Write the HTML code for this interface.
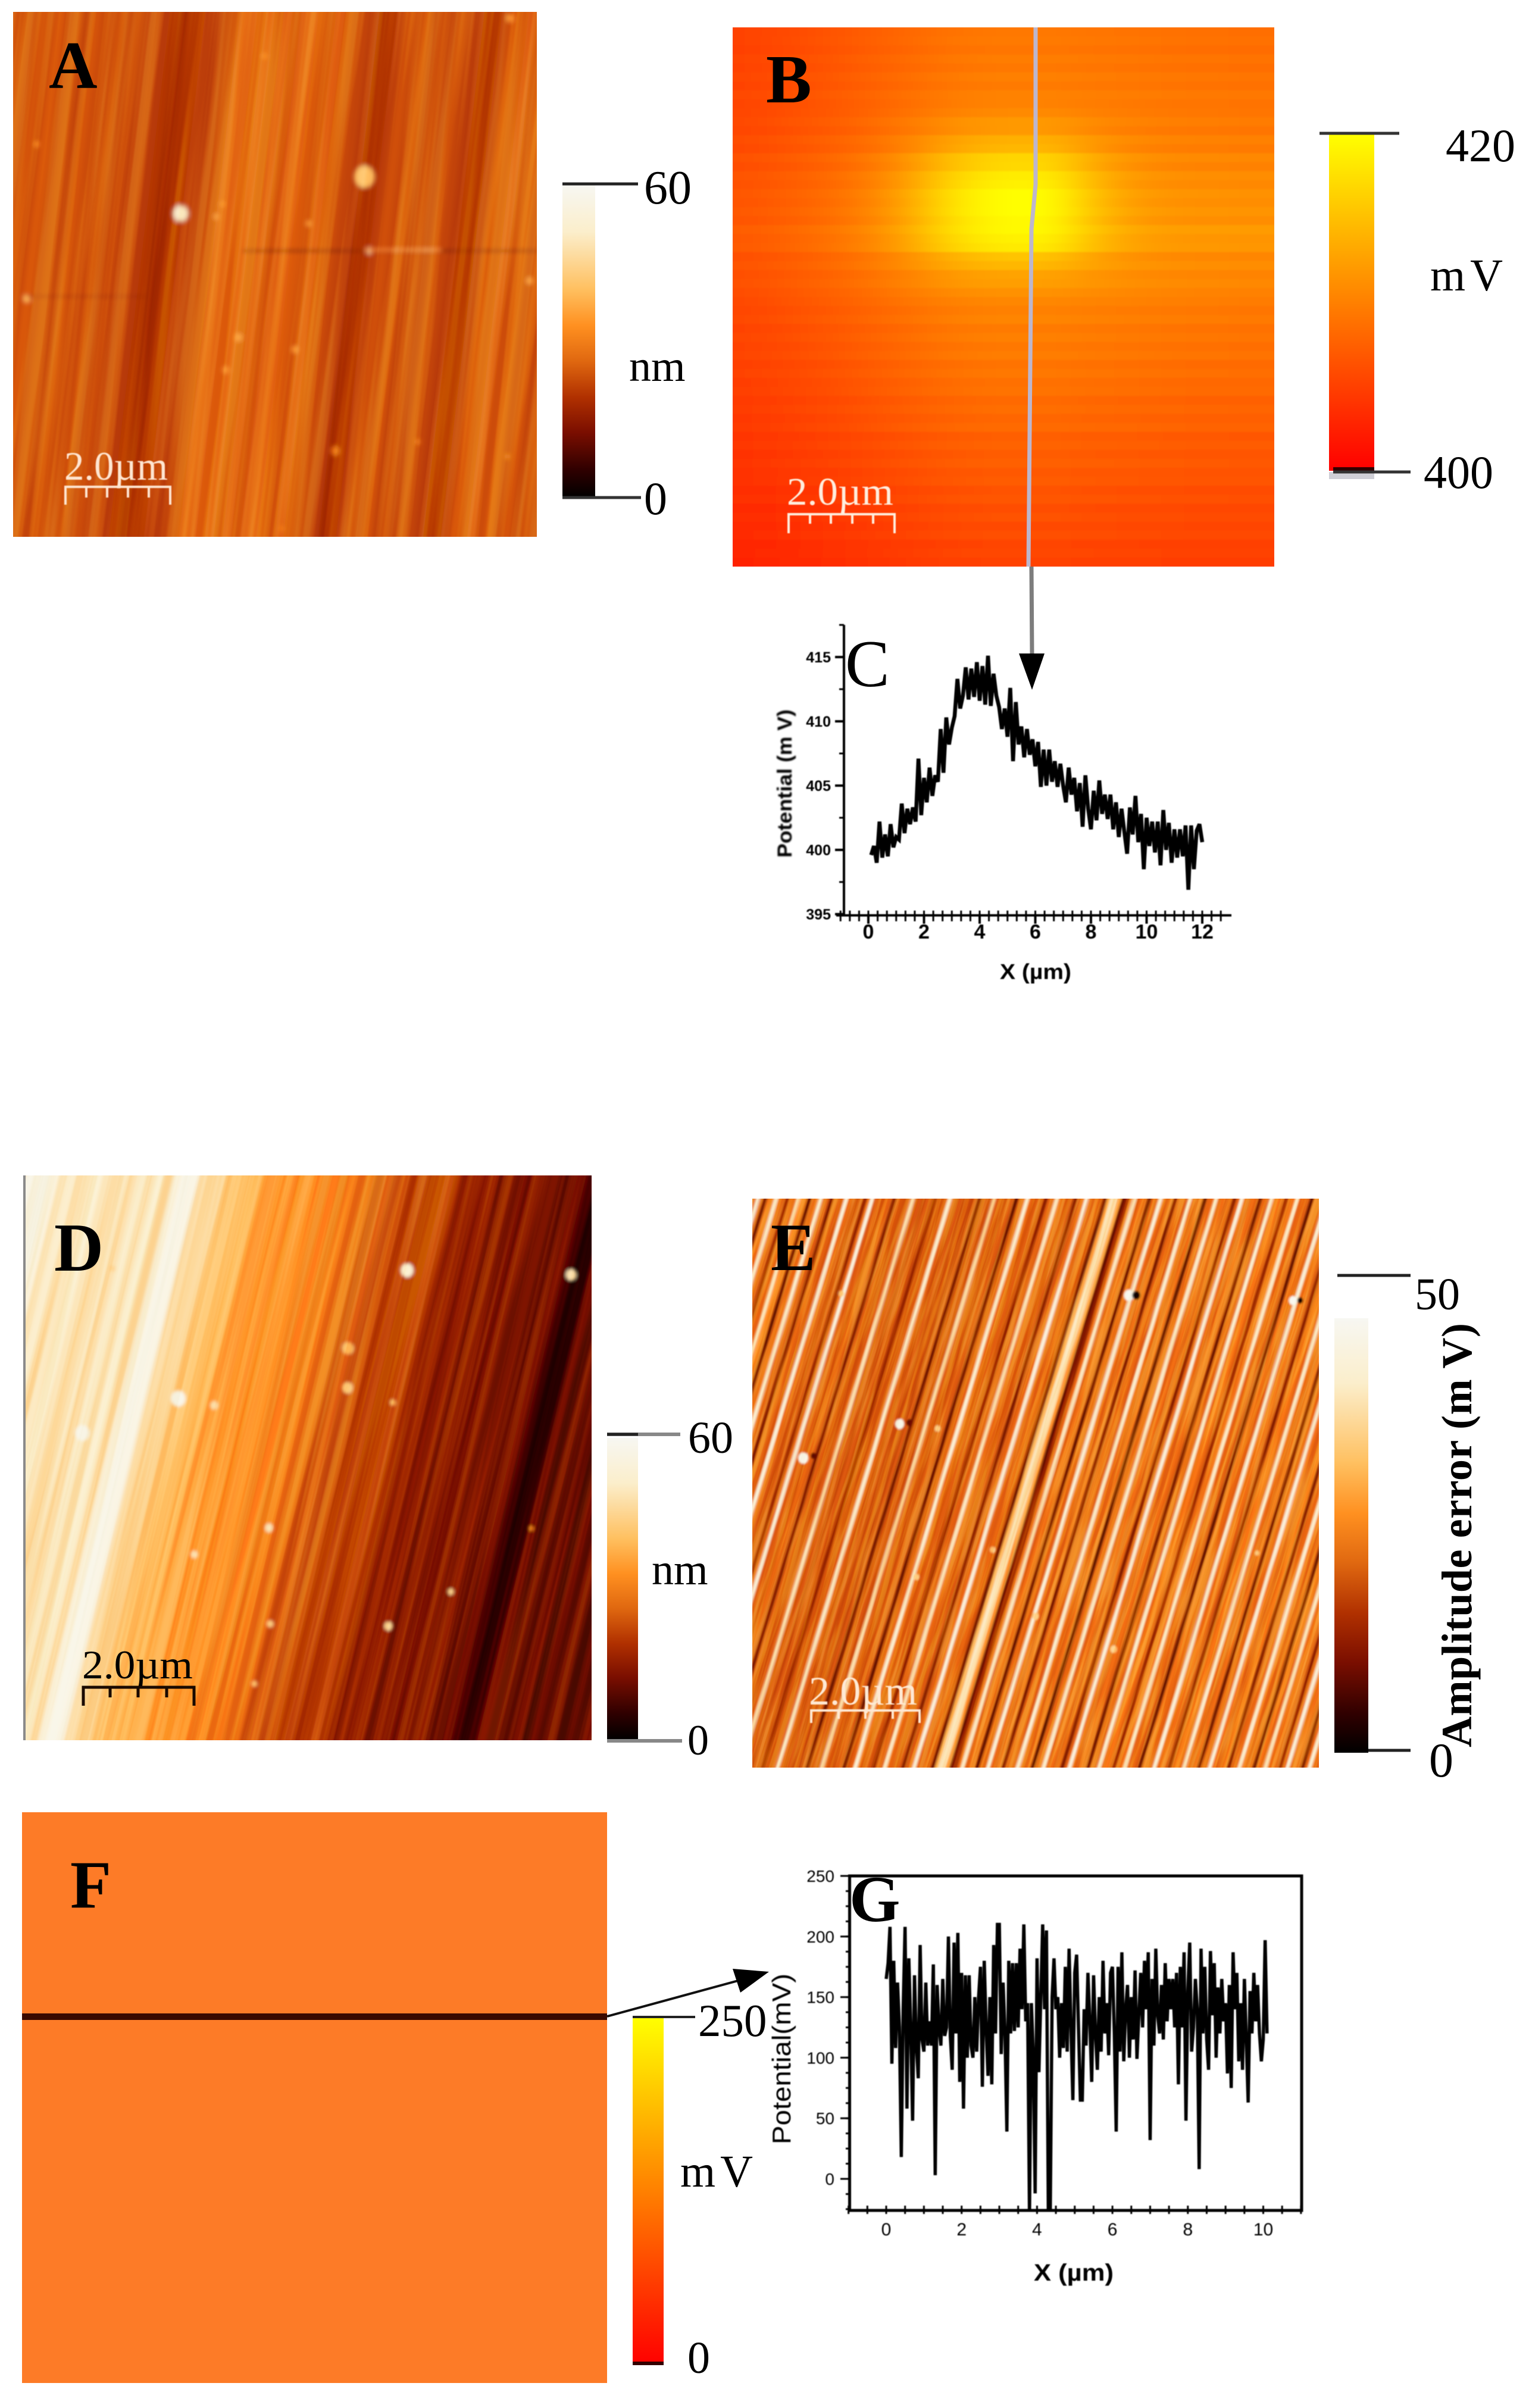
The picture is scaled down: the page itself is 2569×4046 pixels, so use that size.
<!DOCTYPE html>
<html lang="en">
<head>
<meta charset="utf-8">
<title>AFM and surface potential panels</title>
<style>
html,body{margin:0;padding:0;background:#fff;}
svg{display:block;}
text{font-family:"Liberation Serif",serif;fill:#000;}
.sans{font-family:"Liberation Sans",sans-serif;}
</style>
</head>
<body>
<svg id="figure" xmlns="http://www.w3.org/2000/svg" width="2569" height="4046" viewBox="0 0 2569 4046">
<defs>
  <filter id="blurA" filterUnits="userSpaceOnUse" x="-50" y="-50" width="1100" height="1100"><feGaussianBlur stdDeviation="4"/></filter>
  <filter id="blurB" filterUnits="userSpaceOnUse" x="1100" y="-50" width="1200" height="1150"><feGaussianBlur stdDeviation="26 1.4"/></filter>
  <filter id="blurD" filterUnits="userSpaceOnUse" x="-50" y="1900" width="1150" height="1100"><feGaussianBlur stdDeviation="2.6"/></filter>
  <filter id="blurE" filterUnits="userSpaceOnUse" x="1200" y="1950" width="1100" height="1100"><feGaussianBlur stdDeviation="1.6"/></filter>
  <filter id="soft" filterUnits="userSpaceOnUse" x="0" y="0" width="2569" height="4046"><feGaussianBlur stdDeviation="0.9"/></filter>
  <filter id="softer" filterUnits="userSpaceOnUse" x="0" y="0" width="2569" height="4046"><feGaussianBlur stdDeviation="1.4"/></filter>
  <filter id="streakA" filterUnits="objectBoundingBox" x="0" y="0" width="1" height="1" color-interpolation-filters="sRGB"><feTurbulence type="fractalNoise" baseFrequency="0.045 0.0012" numOctaves="3" seed="4"/><feColorMatrix type="matrix" values="3 0 0 0 -1  3 0 0 0 -1  3 0 0 0 -1  0 0 0 0 1"/></filter>
  <filter id="streakD" filterUnits="objectBoundingBox" x="0" y="0" width="1" height="1" color-interpolation-filters="sRGB"><feTurbulence type="fractalNoise" baseFrequency="0.07 0.0012" numOctaves="3" seed="9"/><feColorMatrix type="matrix" values="3 0 0 0 -1  3 0 0 0 -1  3 0 0 0 -1  0 0 0 0 1"/></filter>
  <filter id="streakE" filterUnits="objectBoundingBox" x="0" y="0" width="1" height="1" color-interpolation-filters="sRGB"><feTurbulence type="fractalNoise" baseFrequency="0.12 0.006" numOctaves="3" seed="15"/><feColorMatrix type="matrix" values="3 0 0 0 -1  3 0 0 0 -1  3 0 0 0 -1  0 0 0 0 1"/></filter>
  <clipPath id="clipA"><rect x="22" y="20" width="880" height="882"/></clipPath>
  <clipPath id="clipB"><rect x="1231" y="46" width="910" height="906"/></clipPath>
  <clipPath id="clipD"><rect x="40" y="1975" width="954" height="949"/></clipPath>
  <clipPath id="clipE"><rect x="1264" y="2014" width="952" height="956"/></clipPath>
  <clipPath id="clipG"><rect x="1427" y="3152" width="760" height="562"/></clipPath>
  <linearGradient id="gradHot" x1="0" y1="1" x2="0" y2="0">
    <stop offset="0" stop-color="#000000"/><stop offset="0.09" stop-color="#300000"/><stop offset="0.207" stop-color="#7a0e00"/><stop offset="0.32" stop-color="#b03000"/><stop offset="0.437" stop-color="#e06810"/><stop offset="0.55" stop-color="#ff9020"/><stop offset="0.667" stop-color="#ffc060"/><stop offset="0.85" stop-color="#fbeecb"/><stop offset="1" stop-color="#f7f7f2"/>
  </linearGradient>
  <linearGradient id="gradYellow" x1="0" y1="1" x2="0" y2="0">
    <stop offset="0" stop-color="#ff0000"/><stop offset="0.5" stop-color="#ff8000"/><stop offset="1" stop-color="#ffff00"/>
  </linearGradient>
</defs>
<rect width="2569" height="4046" fill="#fff"/>

<!-- Panel A -->
<g>
  <g clip-path="url(#clipA)" style="isolation:isolate">
    <rect x="22" y="20" width="880" height="882" fill="#d65a08"/>
    <g id="imgA" filter="url(#blurA)"></g>
    <g transform="rotate(6.67 462 461)" style="mix-blend-mode:soft-light" opacity="0.28"><rect x="-300" y="-300" width="1500" height="1500" filter="url(#streakA)"/></g>
  </g>
  <text x="82" y="148" font-size="113" font-weight="bold">A</text>
  <g filter="url(#soft)">
    <text x="108" y="806" font-size="68" textLength="174" lengthAdjust="spacingAndGlyphs" style="fill:#ffe6d2">2.0µm</text>
    <path d="M110 848V818H286V848M145 818V836M180 818V836M215 818V836M250 818V836" fill="none" stroke="#ffe6d2" stroke-width="4"/>
  </g>
  <rect x="945" y="311" width="55" height="525" fill="url(#gradHot)"/>
  <path d="M945 309H1072" stroke="#222" stroke-width="5"/>
  <path d="M945 836H1077" stroke="#333" stroke-width="5"/>
  <text x="1082" y="342" font-size="80">60</text>
  <text x="1057" y="640" font-size="74">nm</text>
  <text x="1082" y="864" font-size="78">0</text>
</g>

<!-- Panel B -->
<g>
  <g clip-path="url(#clipB)"><rect x="1231" y="46" width="910" height="906" fill="#ff6000"/><g id="imgB" filter="url(#blurB)"></g></g>
  <text x="1287" y="172" font-size="115" font-weight="bold">B</text>
  <path d="M1740 46V310L1733 385L1728 952" fill="none" stroke="#bdb6cc" stroke-width="7"/>
  <g filter="url(#soft)">
    <text x="1322" y="848" font-size="66" textLength="179" lengthAdjust="spacingAndGlyphs" style="fill:#ffeede">2.0µm</text>
    <path d="M1325 896V864H1503V896M1361 864V880M1396 864V880M1432 864V880M1467 864V880" fill="none" stroke="#ffeede" stroke-width="4"/>
  </g>
  <rect x="2233" y="226" width="76" height="565" fill="url(#gradYellow)"/>
  <rect x="2233" y="793" width="76" height="12" fill="#cfcfd6"/>
  <rect x="2240" y="785" width="69" height="7" fill="#300"/>
  <path d="M2217 224H2351" stroke="#333" stroke-width="5"/>
  <path d="M2240 793H2370" stroke="#333" stroke-width="5"/>
  <text x="2429" y="271" font-size="78">420</text>
  <text x="2403" y="488" font-size="76" letter-spacing="8">mV</text>
  <text x="2392" y="820" font-size="78">400</text>
</g>

<!-- Panel C -->
<g>
  <path d="M1733 952L1734 1102" stroke="#7d7d7d" stroke-width="7" fill="none"/>
  <path d="M1712 1098H1755L1734 1159Z" fill="#000"/>
  <g id="chartC" filter="url(#soft)"></g>
  <text x="1420" y="1153" font-size="112">C</text>
  <g filter="url(#softer)"><text class="sans" transform="translate(1330 1441) rotate(-90)" font-size="34" textLength="249" lengthAdjust="spacingAndGlyphs" font-weight="bold">Potential (m V)</text></g>
  <text class="sans" x="1680" y="1645" font-size="36" textLength="120" lengthAdjust="spacingAndGlyphs" font-weight="bold" filter="url(#soft)">X (µm)</text>
</g>

<!-- Panel D -->
<g>
  <g clip-path="url(#clipD)" style="isolation:isolate">
    <rect x="40" y="1975" width="954" height="949" fill="#d86a10"/>
    <g id="imgD" filter="url(#blurD)"></g>
    <g transform="rotate(13.5 517 2450)" style="mix-blend-mode:soft-light" opacity="0.32"><rect x="-300" y="1700" width="1700" height="1500" filter="url(#streakD)"/></g>
  </g>
  <path d="M41 1975V2924" stroke="#8a8a8a" stroke-width="4"/>
  <text x="91" y="2135" font-size="115" font-weight="bold">D</text>
  <g>
    <text x="138" y="2820" font-size="68" textLength="186" lengthAdjust="spacingAndGlyphs">2.0µm</text>
    <path d="M140 2866V2835H326V2866M185 2835V2852M232 2835V2852M280 2835V2852" fill="none" stroke="#1a0a00" stroke-width="5"/>
  </g>
  <rect x="1020" y="2416" width="52" height="508" fill="url(#gradHot)"/>
  <path d="M1020 2410H1143" stroke="#888" stroke-width="6"/>
  <path d="M1020 2410H1072" stroke="#222" stroke-width="5"/>
  <path d="M1020 2925H1146" stroke="#888" stroke-width="6"/>
  <text x="1156" y="2441" font-size="76">60</text>
  <text x="1095" y="2662" font-size="74">nm</text>
  <text x="1155" y="2948" font-size="72">0</text>
</g>

<!-- Panel E -->
<g>
  <g clip-path="url(#clipE)" style="isolation:isolate">
    <rect x="1264" y="2014" width="952" height="956" fill="#e07a25"/>
    <g id="imgE" filter="url(#blurE)"></g>
    <g transform="rotate(16.9 1740 2492)" style="mix-blend-mode:soft-light" opacity="0.35"><rect x="900" y="1650" width="1700" height="1700" filter="url(#streakE)"/></g>
  </g>
  <text x="1295" y="2134" font-size="113" font-weight="bold">E</text>
  <g filter="url(#soft)">
    <text x="1359" y="2864" font-size="68" textLength="182" lengthAdjust="spacingAndGlyphs" style="fill:#ffe9d4">2.0µm</text>
    <path d="M1363 2895V2874H1545V2895M1409 2874V2888M1454 2874V2888M1500 2874V2888" fill="none" stroke="#ffe9d4" stroke-width="4"/>
  </g>
  <rect x="2242" y="2215" width="57" height="730" fill="url(#gradHot)"/>
  <path d="M2247 2143H2370" stroke="#222" stroke-width="5"/>
  <path d="M2299 2941H2370" stroke="#222" stroke-width="5"/>
  <text x="2377" y="2200" font-size="76">50</text>
  <text x="2401" y="2985" font-size="82">0</text>
  <text transform="translate(2472 2936) rotate(-90)" font-size="72" font-weight="bold" textLength="713" lengthAdjust="spacing">Amplitude error (m V)</text>
</g>

<!-- Panel F -->
<g>
  <rect x="37" y="3045" width="983" height="959" fill="#fd7b27"/>
  <rect x="37" y="3383" width="983" height="11" fill="#3a0a00"/>
  <text x="118" y="3205" font-size="113" font-weight="bold">F</text>
  <path d="M1020 3388L1262 3322" stroke="#111" stroke-width="4" fill="none"/>
  <path d="M1292 3313L1231 3308L1244 3348Z" fill="#000"/>
  <rect x="1063" y="3390" width="52" height="584" fill="url(#gradYellow)"/>
  <rect x="1063" y="3968" width="52" height="6" fill="#300"/>
  <path d="M1063 3389H1168" stroke="#222" stroke-width="4"/>
  <text x="1173" y="3421" font-size="77">250</text>
  <text x="1143" y="3674" font-size="76" letter-spacing="8">mV</text>
  <text x="1155" y="3987" font-size="76">0</text>
</g>

<!-- Panel G -->
<g>
  <g id="chartG" filter="url(#soft)"></g>
  <text x="1427" y="3228" font-size="110" font-weight="bold">G</text>
  <g filter="url(#soft)"><text class="sans" transform="translate(1328 3603) rotate(-90)" font-size="44" textLength="287" lengthAdjust="spacingAndGlyphs">Potential(mV)</text></g>
  <text class="sans" x="1737" y="3832" font-size="40" textLength="134" lengthAdjust="spacingAndGlyphs" font-weight="bold" filter="url(#soft)">X (µm)</text>
</g>
</svg>

<script>
// ---------- colormap data ----------
const hotStops = [0, 0.09, 0.207, 0.32, 0.437, 0.55, 0.667, 0.85, 1];
const hotColours = [[0,0,0],[48,0,0],[122,14,0],[176,48,0],[224,104,16],[255,144,32],[255,192,96],[251,238,203],[247,247,242]];

// ---------- panel A: stripe heights (fraction of 60 nm) ----------
const aLevels = [.41,.42,.40,.43,.41,.44,.40,.42,.39,.43,.41,.40,.42,.39,.41,.38,.40,.37,.36,.31,.33,.36,.38,.37,.39,.41,.47,.46,.44,.47,.43,.46,.42,.45,.47,.44,.42,.46,.43,.41,.39,.37,.32,.35,.38,.42,.40,.43,.39,.41,.38,.42,.39,.37,.35,.34,.38,.44,.42,.45,.41,.44,.40,.43,.39,.42,.40];
const aParticleX = [6.71,3.2,.26,6.8,4.8,5.64,9.86,4.3,5.38,4.06,6.15,9.49,.45,9.44,3.88,4.0,7.73,5.13];
const aParticleY = [3.14,3.84,5.46,4.55,.84,4.03,5.12,6.2,6.43,6.82,8.36,.12,2.52,8.47,3.9,3.66,8.19,9.84];
const aParticleR = [.19,.14,.07,.06,.05,.05,.06,.07,.06,.06,.08,.07,.05,.04,.05,.05,.04,.04];
const aParticleLevel = [.68,.84,.68,.8,.56,.6,.58,.58,.6,.6,.5,.6,.56,.54,.58,.56,.55,.54];

// ---------- panel D: stripe heights (fraction of 60 nm) ----------
const dLevels = [.95,.93,.95,.9,.8,.84,.78,.82,.86,.8,.76,.82,.78,.84,.8,.85,.78,.9,.95,.93,.78,.74,.76,.7,.68,.64,.66,.6,.62,.56,.6,.54,.58,.55,.51,.55,.49,.53,.47,.5,.4,.46,.38,.42,.35,.39,.33,.36,.4,.32,.26,.3,.24,.28,.22,.27,.23,.2,.25,.22,.26,.18,.22,.2,.12,.08,.1,.2,.16,.22,.18,.2,.15,.2,.18,.22,.16,.19,.17,.2];
const dParticleX = [6.75,9.64,2.72,1.03,3.35,5.71,5.7,6.5,4.32,3.0,6.42,7.52,4.34,4.06,8.94,1.57];
const dParticleY = [1.68,1.76,3.95,4.56,4.07,3.06,3.76,4.02,6.24,6.71,7.98,7.37,7.94,9.0,6.25,1.65];
const dParticleR = [.11,.09,.13,.13,.07,.1,.09,.05,.07,.06,.07,.05,.06,.05,.04,.05];
const dParticleLevel = [.85,.8,.95,.95,.8,.68,.7,.68,.8,.8,.75,.72,.75,.72,.5,.72];

// ---------- panel E: stripe amplitudes (fraction of 50 mV) ----------
const eLevels = [
.48,.9,.46,.22,.52,.5,.86,.5,.46,.3,.5,.48,.8,.55,.5,.2,.48,.5,.85,.48,
.46,.25,.5,.47,.44,.88,.5,.45,.42,.46,.28,.48,.9,.45,.47,.43,.5,.46,.24,.47,
.44,.42,.46,.8,.43,.45,.4,.46,.42,.3,.44,.43,.46,.84,.47,.42,.45,.41,.44,.4,
.46,.22,.43,.45,.42,.78,.46,.44,.42,.47,.45,.2,.44,.48,.86,.5,.44,.47,.43,.28,
.48,.46,.82,.5,.47,.44,.46,.25,.45,.5,.9,.48,.46,.5,.44,.22,.62,.82,.78,.58,
.2,.3,.5,.82,.46,.52,.48,.2,.5,.47,.88,.5,.46,.52,.24,.48,.5,.46,.85,.5,
.47,.52,.18,.48,.5,.84,.47,.52,.46,.5,.26,.48,.9,.5,.46,.52,.48,.22,.5,.47,
.86,.5,.54,.48,.3,.5,.52,.83,.48,.5,.46,.2,.52,.5,.47,.88,.5,.52,.46,.26,
.5,.54,.48,.84,.5,.47,.52,.22,.5,.48,.9,.52,.46,.5,.54,.24,.48,.5,.86,.52,
.47,.5,.2,.54,.48,.82,.5,.52,.46,.28,.5,.9,.48,.52,.47,.22,.5,.86,.5,.48];
const eParticleX = [6.65,6.78,9.54,9.67,2.6,2.78,.9,1.08,4.24,2.9,5,6.38,1.57,3.27,8.91];
const eParticleY = [1.7,1.7,1.79,1.79,3.96,3.94,4.56,4.52,6.17,6.65,7.34,7.92,1.67,4.04,6.23];
const eParticleR = [.09,.07,.07,.05,.08,.06,.09,.05,.05,.05,.06,.06,.05,.05,.04];
const eParticleLevel = [.98,.03,.98,.05,.95,.2,.95,.2,.72,.72,.72,.72,.7,.7,.7];

// ---------- panel B: potential map profiles (fraction of 20 mV above 400) ----------
const bRowBase = [.47,.48,.46,.49,.47,.5,.48,.51,.49,.5,.53,.5,.55,.52,.58,.55,.6,.58,.62,.6,.63,.6,.66,.63,.64,.57,.6,.56,.58,.55,.53,.5,.52,.48,.5,.47,.49,.45,.47,.44,.45,.41,.43,.4,.42,.37,.39,.36,.38,.35,.36,.32,.34,.3,.32,.29,.31,.27,.28,.26];
const bRowPeak = [0,0,0,0,0,0,0,0,.02,.04,.07,.1,.14,.2,.26,.3,.33,.37,.38,.4,.37,.38,.32,.32,.28,.2,.12,.08,.04,.02,0,0,0,0,0,0,0,0,0,0,0,0,0,0,0,0,0,0,0,0,0,0,0,0,0,0,0,0,0,0];
const bColTilt = [.55,.58,.62,.66,.7,.75,.8,.85,.9,.95,.98,1,1,1,1,.98,.97,.96,.95,.94,.93,.93,.92,.92];
const bColBump = [0,0,0,0,.02,.06,.14,.28,.48,.7,.85,.95,1,1,.85,.55,.3,.12,.04,0,0,0,0,0];

// ---------- chart C ----------
const cXStart = 0.1;
const cXStep = 0.1;
const cPotential = [
399.6,400.3,399,402.2,399.4,401.2,399.5,402,400.2,401,
400.8,403.6,401.3,403.2,402,403.3,402.2,407.1,402.7,405.6,
403.7,406.4,404.2,405.8,405.3,409.4,406,410.3,408.2,409.5,
410.4,413.3,411,412,414.2,411.7,414.1,411.9,414.6,411.6,
414.3,411.3,415.1,411.2,413.7,412,411.1,409.4,411,408.8,
412.6,406.9,411.5,408.2,409.6,407.2,409.4,407.4,408.6,406.5,
408.4,404.9,407.8,405,407.8,405.3,406.9,404.9,406.7,405,
403.7,406.4,404.3,405.6,403,405.2,401.8,405.8,403.2,401.6,
404.6,402.3,405.4,402.8,404.3,402.4,404.3,401.6,403.7,401,
403.2,401.4,399.7,403.3,401.2,404.2,400.6,402.8,398.5,402.5,
400.3,402.2,399.8,402.2,398.8,403.1,400,402.1,399,401.6,
399.4,401.6,399.5,401.9,396.9,401.9,398.5,401.5,402,400.6];
const cXTicks = [0,2,4,6,8,10,12];
const cXTickLabels = ["0","2","4","6","8","10","12"];
const cYTicks = [395,400,405,410,415];
const cYTickLabels = ["395","400","405","410","415"];

// ---------- chart G ----------
const gXStep = 0.05;
const gPotential = [
165,178,208,95,180,108,162,125,18,140,
208,58,182,125,48,168,110,83,193,115,
105,162,110,130,110,177,3,160,125,110,
165,118,125,200,118,90,195,120,203,80,
170,58,168,100,168,110,100,150,105,150,
175,76,180,125,85,150,78,193,120,210,
210,103,162,120,39,180,120,178,122,178,
125,190,140,210,130,145,-30,145,103,-12,
182,88,150,210,140,205,-30,-30,150,182,
140,150,100,145,108,175,105,190,125,65,
170,185,125,65,65,140,110,170,130,80,
168,120,90,150,105,180,120,145,102,170,
175,120,39,175,105,187,97,140,160,100,
150,115,172,99,135,170,125,180,140,187,
32,165,110,190,135,120,160,115,178,130,
165,140,165,125,170,78,175,125,187,48,
155,195,105,125,165,140,8,190,120,175,
115,90,188,135,178,100,158,120,165,130,
145,87,160,75,187,140,170,97,145,90,
165,115,63,155,120,170,130,160,120,97,
115,197,120];
const gXTicks = [0,2,4,6,8,10];
const gXTickLabels = ["0","2","4","6","8","10"];
const gYTicks = [0,50,100,150,200,250];
const gYTickLabels = ["0","50","100","150","200","250"];

// ---------- helpers ----------
const SVG_NS = "http://www.w3.org/2000/svg";
function make(tag, parent) {
  const el = document.createElementNS(SVG_NS, tag);
  parent.appendChild(el);
  return el;
}
function hotColour(v) {
  const t = Math.max(0, Math.min(1, v));
  let i = 0;
  while (i < hotStops.length - 2 && t > hotStops[i + 1]) i++;
  const f = (t - hotStops[i]) / (hotStops[i + 1] - hotStops[i]);
  const a = hotColours[i], b = hotColours[i + 1];
  return "rgb(" + [0,1,2].map(k => Math.round(a[k] + (b[k] - a[k]) * f)).join(",") + ")";
}

function drawStripes(groupId, levels, px, py, pw, ph, slant, xs, ys, rs, ls) {
  const group = document.getElementById(groupId);
  const span = pw + Math.abs(slant) * ph;
  const cw = span / levels.length;
  const margin = 20;
  levels.forEach(function (lv, i) {
    const x0 = px + i * cw;
    const x1 = x0 + cw + 1;
    const poly = make("polygon", group);
    
    
    const d = slant * (ph + margin);
    const u = -slant * margin;
    poly.setAttribute("points",
      (x0 + u) + "," + (py - margin) + " " + (x1 + u) + "," + (py - margin) + " " +
      (x1 + d) + "," + (py + ph + margin) + " " + (x0 + d) + "," + (py + ph + margin));
    poly.setAttribute("fill", hotColour(lv));
  });
  const umX = pw / 10, umY = ph / 10;
  xs.forEach(function (x, i) {
    const dot = make("ellipse", group);
    
    
    dot.setAttribute("cx", px + x * umX);
    dot.setAttribute("cy", py + ys[i] * umY);
    dot.setAttribute("rx", rs[i] * umX);
    dot.setAttribute("ry", rs[i] * umY * 1.1);
    dot.setAttribute("fill", hotColour(ls[i]));
  });
}

drawStripes("imgA", aLevels, 22, 20, 880, 882, -0.117, aParticleX, aParticleY, aParticleR, aParticleLevel);
drawStripes("imgD", dLevels, 40, 1975, 954, 949, -0.24, dParticleX, dParticleY, dParticleR, dParticleLevel);
drawStripes("imgE", eLevels, 1264, 2014, 952, 956, -0.303, eParticleX, eParticleY, eParticleR, eParticleLevel);

// thin scan artefacts on panel A
(function () {
  const g = document.getElementById("imgA");
  const l1 = make("rect", g);
  
  
  l1.setAttribute("x", 408); l1.setAttribute("y", 420); l1.setAttribute("width", 494); l1.setAttribute("height", 3);
  l1.setAttribute("fill", "#8b2500");
  const l2 = make("rect", g);
  
  
  l2.setAttribute("x", 612); l2.setAttribute("y", 418); l2.setAttribute("width", 130); l2.setAttribute("height", 4);
  l2.setAttribute("fill", "#ff9a40");
  const l3 = make("rect", g);
  
  
  l3.setAttribute("x", 45); l3.setAttribute("y", 497); l3.setAttribute("width", 210); l3.setAttribute("height", 2);
  l3.setAttribute("fill", "#a83200");
})();

// panel B heatmap
(function () {
  const g = document.getElementById("imgB");
  const px = 1231, py = 46, pw = 910, ph = 906;
  const rowH = ph / bRowBase.length, colW = pw / bColTilt.length;
  bRowBase.forEach(function (base, r) {
    bColTilt.forEach(function (tilt, c) {
      const v = Math.min(1, base * tilt + bRowPeak[r] * bColBump[c]);
      const cell = make("rect", g);
      
      
      const x = px + c * colW - (c === 0 ? 80 : 0);
      const w = colW + 1 + (c === 0 || c === bColTilt.length - 1 ? 80 : 0);
      const y = py + r * rowH - (r === 0 ? 10 : 0);
      const h = rowH + 0.6 + (r === 0 || r === bRowBase.length - 1 ? 10 : 0);
      cell.setAttribute("x", x);
      cell.setAttribute("y", y);
      cell.setAttribute("width", w);
      cell.setAttribute("height", h);
      cell.setAttribute("fill", "rgb(255," + Math.round(255 * v) + ",0)");
    });
  });
})();

// ---------- chart C ----------
(function () {
  const g = document.getElementById("chartC");
  const xScale = v => 1459 + (v - 0) * 46.75;
  const yScale = v => 1428 - (v - 400) * 21.6;
  const axes = make("path", g);
  
  
  axes.setAttribute("d", "M1418 1050V1538M1405 1538H2069");
  axes.setAttribute("stroke", "#000");
  axes.setAttribute("stroke-width", "4");
  axes.setAttribute("fill", "none");
  let minor = "";
  for (let v = -1; v <= 13; v += 1 / 3) minor += "M" + xScale(v) + " 1530V1548";
  for (let v = 397.5; v <= 417.5; v += 5) minor += "M1410 " + yScale(v) + "H1418";
  const minorPath = make("path", g);
  
  
  minorPath.setAttribute("d", minor);
  minorPath.setAttribute("stroke", "#000");
  minorPath.setAttribute("stroke-width", "3");
  cXTicks.forEach(function (v, i) {
    const tick = make("path", g);
    
    
    tick.setAttribute("d", "M" + xScale(v) + " 1538V1552");
    tick.setAttribute("stroke", "#000");
    tick.setAttribute("stroke-width", "4");
    const t = make("text", g);
    
    
    t.setAttribute("class", "sans");
    t.setAttribute("x", xScale(v));
    t.setAttribute("y", 1577);
    t.setAttribute("font-size", "34");
    t.setAttribute("font-weight", "bold");
    t.setAttribute("text-anchor", "middle");
    t.textContent = cXTickLabels[i];
  });
  cYTicks.forEach(function (v, i) {
    const tick = make("path", g);
    
    
    tick.setAttribute("d", "M1403 " + yScale(v) + "H1418");
    tick.setAttribute("stroke", "#000");
    tick.setAttribute("stroke-width", "4");
    const t = make("text", g);
    
    
    t.setAttribute("class", "sans");
    t.setAttribute("x", 1396);
    t.setAttribute("y", yScale(v) + 9);
    t.setAttribute("font-size", "25");
    t.setAttribute("font-weight", "bold");
    t.setAttribute("text-anchor", "end");
    t.textContent = cYTickLabels[i];
  });
  const line = make("polyline", g);
  
  
  line.setAttribute("points", cPotential.map((v, i) => xScale(cXStart + i * cXStep) + "," + yScale(v)).join(" "));
  line.setAttribute("fill", "none");
  line.setAttribute("stroke", "#000");
  line.setAttribute("stroke-width", "6.5");
  line.setAttribute("stroke-linejoin", "miter");
  line.setAttribute("stroke-miterlimit", "3");
})();

// ---------- chart G ----------
(function () {
  const g = document.getElementById("chartG");
  const xScale = v => 1489 + v * 63.35;
  const yScale = v => 3661 - v * 2.036;
  const frame = make("rect", g);
  
  
  frame.setAttribute("x", 1427.5);
  frame.setAttribute("y", 3152);
  frame.setAttribute("width", 759.5);
  frame.setAttribute("height", 562);
  frame.setAttribute("fill", "none");
  frame.setAttribute("stroke", "#000");
  frame.setAttribute("stroke-width", "5");
  let minor = "";
  for (let v = -1; v <= 11; v += 0.5) minor += "M" + xScale(v) + " 3706V3720";
  for (let v = -25; v <= 250; v += 12.5) minor += "M1421 " + yScale(v) + "H1428";
  const minorPath = make("path", g);
  
  
  minorPath.setAttribute("d", minor);
  minorPath.setAttribute("stroke", "#000");
  minorPath.setAttribute("stroke-width", "3");
  gXTicks.forEach(function (v, i) {
    const t = make("text", g);
    
    
    t.setAttribute("class", "sans");
    t.setAttribute("x", xScale(v));
    t.setAttribute("y", 3756);
    t.setAttribute("font-size", "30");
    t.setAttribute("text-anchor", "middle");
    t.textContent = gXTickLabels[i];
  });
  gYTicks.forEach(function (v, i) {
    const tick = make("path", g);
    
    
    tick.setAttribute("d", "M1412 " + yScale(v) + "H1428");
    tick.setAttribute("stroke", "#000");
    tick.setAttribute("stroke-width", "3");
    const t = make("text", g);
    
    
    t.setAttribute("class", "sans");
    t.setAttribute("x", 1402);
    t.setAttribute("y", yScale(v) + 10);
    t.setAttribute("font-size", "28");
    t.setAttribute("text-anchor", "end");
    t.textContent = gYTickLabels[i];
  });
  const clip = make("g", g);
  clip.setAttribute("clip-path", "url(#clipG)");
  
  
  const line = make("polyline", clip);
  
  
  line.setAttribute("points", gPotential.map((v, i) => xScale(i * gXStep) + "," + yScale(v)).join(" "));
  line.setAttribute("fill", "none");
  line.setAttribute("stroke", "#000");
  line.setAttribute("stroke-width", "5.5");
  line.setAttribute("stroke-linejoin", "miter");
  line.setAttribute("stroke-miterlimit", "3");
})();
</script>
</body>
</html>
